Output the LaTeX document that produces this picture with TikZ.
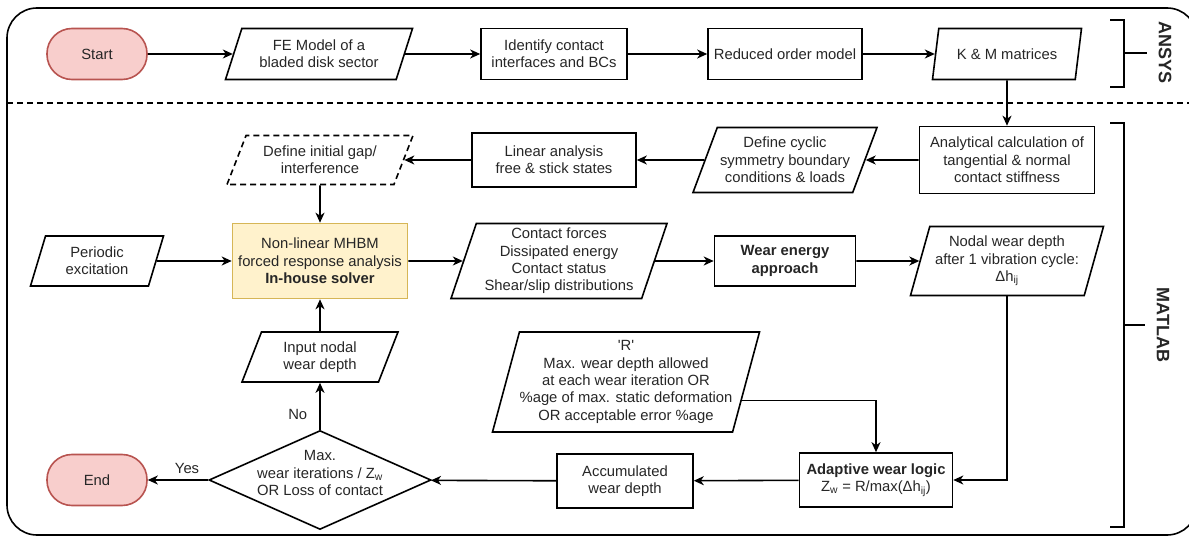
\documentclass[tikz,border=0pt]{standalone}
\usepackage{fontspec}
\setmainfont{Liberation Sans}
\usetikzlibrary{shapes.geometric, arrows.meta}

\definecolor{termfill}{HTML}{F8CECC}
\definecolor{termdraw}{HTML}{B85450}
\definecolor{solverfill}{HTML}{FFF2CC}
\definecolor{solverdraw}{HTML}{D6B656}

\begin{document}
\begin{tikzpicture}[x=1pt, y=-1pt,
    every node/.style={font=\fontsize{14.8}{17.4}\selectfont, text=black!85, align=center, inner sep=0pt},
    box/.style={draw, line width=1.6pt},
    term/.style={draw=termdraw, fill=termfill, line width=1.6pt, rounded corners=25pt},
    solver/.style={draw=solverdraw, fill=solverfill, line width=1.6pt},
    data/.style={draw, line width=1.6pt, trapezium, trapezium left angle=#1,
      trapezium right angle/.evaluated={180-#1}, trapezium stretches body},
    decision/.style={draw, line width=1.6pt, diamond},
    flow/.style={line width=1.6pt, -{Stealth[length=10pt, width=9pt, inset=3pt]}},
    bracket/.style={line width=1.6pt},
    tool/.style={rotate=-90, font=\fontsize{18}{20}\selectfont\bfseries}]

    \useasboundingbox (0,0) rectangle (1189,537);

    % Draw the outer frame and the dashed split between the two tools
    \draw[line width=1.6pt, rounded corners=30pt] (7,8) rectangle (1197,535);
    \draw[line width=1.6pt, dash pattern=on 6pt off 4pt] (7,103) -- (1189,103);

    % Draw the ANSYS row
    \node[term, minimum width=100, minimum height=51] (start) at (97,54) {Start};
    \node[data=60, minimum width=187, minimum height=51] (fe) at (319,54) {FE Model of a\\bladed disk sector};
    \node[box, minimum width=146, minimum height=51] (interf) at (554,54) {Identify contact\\interfaces and BCs};
    \node[box, minimum width=154, minimum height=51] (rom) at (785,54) {Reduced order model};
    \node[data=60, minimum width=149, minimum height=51] (km) at (1007,54) {K \& M matrices};

    % Draw the pre-processing row in MATLAB
    \node[box, minimum width=175, minimum height=67] (stiff) at (1007,160) {Analytical calculation of\\tangential \& normal\\contact stiffness};
    \node[data=62, minimum width=184, minimum height=65] (cyclic) at (785,160) {Define cyclic\\symmetry boundary\\conditions \& loads};
    \node[box, minimum width=164, minimum height=54] (linear) at (554,160) {Linear analysis\\free \& stick states};
    \node[data=56, dash pattern=on 6pt off 4pt, minimum width=186, minimum height=49] (gap) at (320,160) {Define initial gap/\\interference};

    % Draw the solver row
    \node[data=62, minimum width=133, minimum height=50] (excite) at (97,261) {Periodic\\excitation};
    \node[solver, minimum width=175, minimum height=75] (solve) at (320,261) {Non-linear MHBM\\forced response analysis\\\textbf{In-house solver}};
    \node[data=69, minimum width=216, minimum height=75] (result) at (559,261) {Contact forces\\Dissipated energy\\Contact status\\Shear/slip distributions};
    \node[box, minimum width=141, minimum height=50] (energy) at (785,261) {\textbf{Wear energy}\\\textbf{approach}};
    \node[data=69, minimum width=193, minimum height=69] (nodal) at (1007,261) {Nodal wear depth\\after 1 vibration cycle:\\Δh\textsubscript{ij}};

    % Draw the wear loop
    \node[data=58, minimum width=156, minimum height=50] (input) at (320,357) {Input nodal\\wear depth};
    \node[data=72, minimum width=267, minimum height=100] (limit) at (626,382) {\textquotesingle R\textquotesingle\\Max. wear depth allowed\\at each wear iteration OR\\\%age of max. static deformation\\OR acceptable error \%age};
    \node[term, minimum width=100, minimum height=51] (stop) at (97,480) {End};
    \node[decision, minimum width=222, minimum height=99,
      label={[yshift=7pt]center:{Max.\\wear iterations / Z\textsubscript{w}\\OR Loss of contact}}] (check) at (320,480) {};
    \node[box, minimum width=136, minimum height=54] (accum) at (625,481) {Accumulated\\wear depth};
    \node[box, minimum width=153, minimum height=54] (adapt) at (876,480) {\textbf{Adaptive wear logic}\\Z\textsubscript{w} = R/max(Δh\textsubscript{ij})};

    % Draw the tool brackets
    \draw[bracket] (1110,20) -- (1124,20) -- (1124,87) -- (1110,87);
    \draw[bracket] (1124,53) -- (1147,53);
    \node[tool] (ansys) at (1165,53) {ANSYS};
    \draw[bracket] (1110,123) -- (1124,123) -- (1124,527) -- (1110,527);
    \draw[bracket] (1124,325) -- (1145,325);
    \node[tool] (matlab) at (1163,325) {MATLAB};

    % Connect the ANSYS row
    \draw[flow] (start) -- (fe);
    \draw[flow] (fe) -- (interf);
    \draw[flow] (interf) -- (rom);
    \draw[flow] (rom) -- (km);
    \draw[flow] (km) -- (stiff);

    % Connect the MATLAB part
    \draw[flow] (stiff) -- (cyclic);
    \draw[flow] (cyclic) -- (linear);
    \draw[flow] (linear) -- (gap);
    \draw[flow] (gap) -- (solve);
    \draw[flow] (excite) -- (solve);
    \draw[flow] (solve) -- (result);
    \draw[flow] (result) -- (energy);
    \draw[flow] (energy) -- (nodal);
    \draw[flow] (nodal.south) |- (adapt.east);
    \draw[flow] (limit.-9) -| (adapt.north);
    \draw[flow] (adapt) -- (accum);
    \draw[flow] (accum) -- (check);
    \draw[flow] (check) -- node[pos=0.35, above=6pt] {Yes} (stop);
    \draw[flow] (check) -- node[pos=0.33, left=12pt] {No} (input);
    \draw[flow] (input) -- (solve);
\end{tikzpicture}
\end{document}
